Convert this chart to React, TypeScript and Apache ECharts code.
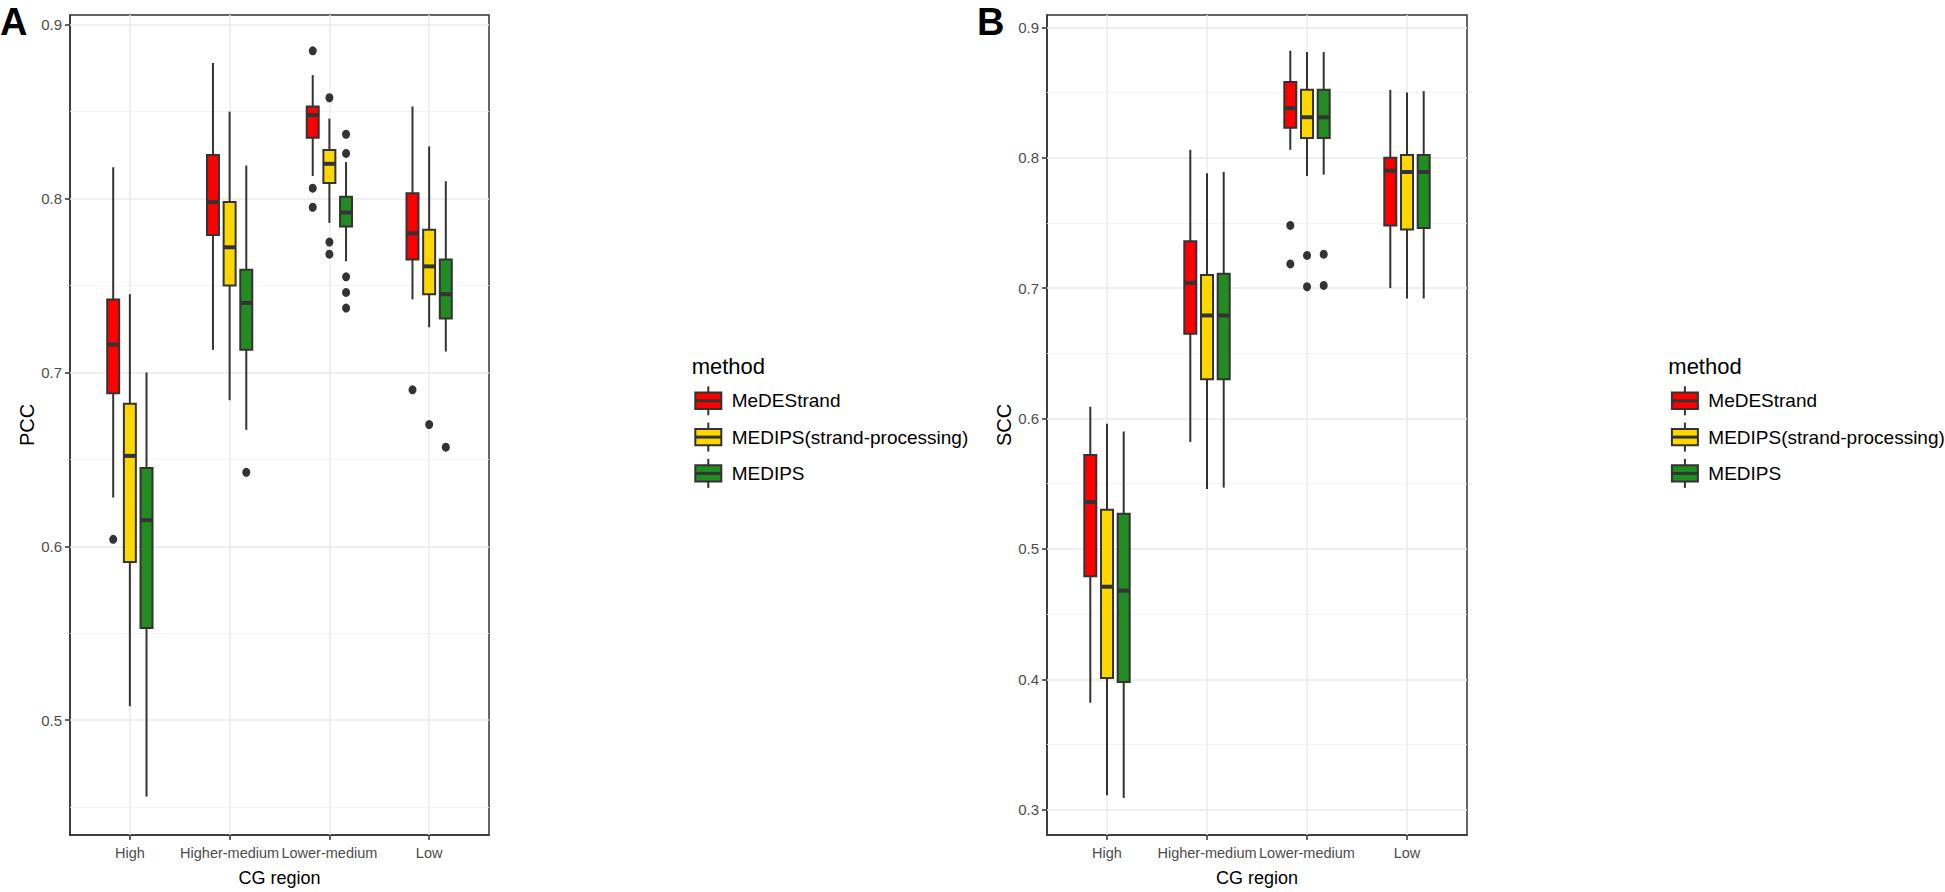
import React, { useEffect, useRef } from 'react';
import * as echarts from 'echarts';

// ---------- data ----------
const categories = ['High', 'Higher-medium', 'Lower-medium', 'Low'];
const methods = ['MeDEStrand', 'MEDIPS(strand-processing)', 'MEDIPS'];
const methodColors = ['#FF0000', '#FFD700', '#228B22'];

// box stats per category: [lower whisker, Q1, median, Q3, upper whisker]
const pccMeDEStrand = [
  [0.628, 0.688, 0.716, 0.742, 0.818],
  [0.713, 0.779, 0.798, 0.825, 0.878],
  [0.813, 0.835, 0.848, 0.853, 0.871],
  [0.742, 0.765, 0.780, 0.803, 0.853],
];
const pccMEDIPSstrand = [
  [0.508, 0.591, 0.652, 0.682, 0.745],
  [0.684, 0.750, 0.772, 0.798, 0.850],
  [0.786, 0.809, 0.820, 0.828, 0.846],
  [0.726, 0.745, 0.761, 0.782, 0.830],
];
const pccMEDIPS = [
  [0.456, 0.553, 0.615, 0.645, 0.700],
  [0.667, 0.713, 0.740, 0.759, 0.819],
  [0.764, 0.784, 0.792, 0.801, 0.821],
  [0.712, 0.731, 0.745, 0.765, 0.810],
];
const pccOutMeDEStrand = [['High', 0.604], ['Lower-medium', 0.885], ['Lower-medium', 0.806], ['Lower-medium', 0.795], ['Low', 0.690]];
const pccOutMEDIPSstrand = [['Lower-medium', 0.858], ['Lower-medium', 0.775], ['Lower-medium', 0.768], ['Low', 0.670]];
const pccOutMEDIPS = [['Higher-medium', 0.6425], ['Lower-medium', 0.837], ['Lower-medium', 0.826], ['Lower-medium', 0.755], ['Lower-medium', 0.746], ['Lower-medium', 0.737], ['Low', 0.657]];

const sccMeDEStrand = [
  [0.382, 0.479, 0.536, 0.572, 0.609],
  [0.582, 0.665, 0.704, 0.736, 0.806],
  [0.806, 0.823, 0.838, 0.858, 0.882],
  [0.700, 0.748, 0.790, 0.800, 0.852],
];
const sccMEDIPSstrand = [
  [0.311, 0.401, 0.471, 0.530, 0.596],
  [0.546, 0.630, 0.679, 0.710, 0.788],
  [0.786, 0.815, 0.831, 0.852, 0.881],
  [0.692, 0.745, 0.789, 0.802, 0.850],
];
const sccMEDIPS = [
  [0.309, 0.398, 0.468, 0.527, 0.590],
  [0.547, 0.630, 0.679, 0.711, 0.789],
  [0.787, 0.815, 0.831, 0.852, 0.881],
  [0.692, 0.746, 0.789, 0.802, 0.851],
];
const sccOutMeDEStrand = [['Lower-medium', 0.748], ['Lower-medium', 0.7185]];
const sccOutMEDIPSstrand = [['Lower-medium', 0.725], ['Lower-medium', 0.701]];
const sccOutMEDIPS = [['Lower-medium', 0.726], ['Lower-medium', 0.702]];

const pccTicks = [0.5, 0.6, 0.7, 0.8, 0.9];
const pccMinor = [0.45, 0.55, 0.65, 0.75, 0.85];
const sccTicks = [0.3, 0.4, 0.5, 0.6, 0.7, 0.8, 0.9];
const sccMinor = [0.35, 0.45, 0.55, 0.65, 0.75, 0.85];

// ---------- styling ----------
const FONT = "'Liberation Sans', Arial, Helvetica, sans-serif";
const DARK = '#333333';
const DODGE = [-0.167, 0, 0.167];
const BOX_W = 0.12;

function boxRenderItem(color: string) {
  return (params: any, api: any) => {
    const x = api.value(0);
    const pLow = api.coord([x, api.value(1)]);
    const pQ1 = api.coord([x, api.value(2)]);
    const pMed = api.coord([x, api.value(3)]);
    const pQ3 = api.coord([x, api.value(4)]);
    const pHigh = api.coord([x, api.value(5)]);
    const w = api.size([BOX_W, 0])[0];
    const cx = pMed[0];
    return {
      type: 'group',
      children: [
        { type: 'line', shape: { x1: cx, y1: pHigh[1], x2: cx, y2: pQ3[1] }, style: { stroke: DARK, lineWidth: 2 } },
        { type: 'line', shape: { x1: cx, y1: pQ1[1], x2: cx, y2: pLow[1] }, style: { stroke: DARK, lineWidth: 2 } },
        { type: 'rect', shape: { x: cx - w / 2, y: pQ3[1], width: w, height: pQ1[1] - pQ3[1] }, style: { fill: color, stroke: DARK, lineWidth: 2 } },
        { type: 'line', shape: { x1: cx - w / 2, y1: pMed[1], x2: cx + w / 2, y2: pMed[1] }, style: { stroke: DARK, lineWidth: 4 } },
      ],
    };
  };
}

function buildPanel(idx: number, left: number, width: number, yName: string, yMin: number, yMax: number,
  ticks: number[], minor: number[], boxes: number[][][], outliers: any[][][]) {
  const grid = { left, top: 15, width, height: 820, show: true, borderColor: DARK, borderWidth: 1.5, backgroundColor: '#fff' };
  const catIdx = categories.map((_, i) => i);
  const xAxis = {
    gridIndex: idx, type: 'value', min: -0.6, max: 3.6,
    splitLine: { show: false },
    axisLine: { show: true, onZero: false, lineStyle: { color: DARK, width: 1.5 } },
    axisTick: { show: true, customValues: catIdx, length: 5, lineStyle: { color: DARK, width: 1.5 } },
    axisLabel: { show: true, customValues: catIdx, formatter: (v: number) => categories[Math.round(v)] ?? '', margin: 10, color: '#4D4D4D', fontSize: 14.5, fontFamily: FONT },
    name: 'CG region', nameLocation: 'middle', nameGap: 34,
    nameTextStyle: { fontSize: 18, color: '#000', fontFamily: FONT },
  };
  const yAxis = {
    gridIndex: idx, type: 'value', min: yMin, max: yMax,
    splitLine: { show: false },
    axisLine: { show: true, onZero: false, lineStyle: { color: DARK, width: 1.5 } },
    axisTick: { show: true, customValues: ticks, length: 5, lineStyle: { color: DARK, width: 1.5 } },
    axisLabel: { show: true, customValues: ticks, formatter: (v: number) => v.toFixed(1), margin: 8, color: '#4D4D4D', fontSize: 15, fontFamily: FONT },
    name: yName, nameLocation: 'middle', nameGap: 33, nameRotate: 90,
    nameTextStyle: { fontSize: 20, color: '#000', fontFamily: FONT },
  };
  const vLine = (x: number, color: string, w: number) => [
    { coord: [x, yMin], lineStyle: { color, width: w, type: 'solid' } },
    { coord: [x, yMax] },
  ];
  const hLine = (y: number, color: string, w: number) => [
    { coord: [-0.6, y], lineStyle: { color, width: w, type: 'solid' } },
    { coord: [3.6, y] },
  ];
  const series: any[] = [];
  series.push({
    type: 'scatter', xAxisIndex: idx, yAxisIndex: idx, data: [], silent: true, z: 1,
    markLine: {
      silent: true, symbol: ['none', 'none'], animation: false, label: { show: false }, z: 1,
      data: [
        ...minor.map(v => hLine(v, '#F2F2F2', 0.9)),
        ...ticks.map(v => hLine(v, '#EBEBEB', 1.5)),
        ...catIdx.map(v => vLine(v, '#EBEBEB', 1.5)),
      ],
    },
  });
  boxes.forEach((stats, m) => {
    series.push({
      type: 'custom', name: methods[m], xAxisIndex: idx, yAxisIndex: idx, z: 3,
      renderItem: boxRenderItem(methodColors[m]),
      encode: { x: 0, y: [1, 2, 3, 4, 5] },
      data: stats.map((s, i) => [i + DODGE[m], ...s]),
    });
  });
  outliers.forEach((pts, m) => {
    series.push({
      type: 'scatter', xAxisIndex: idx, yAxisIndex: idx, z: 4, silent: true,
      symbol: 'circle', symbolSize: [8, 9],
      itemStyle: { color: DARK, opacity: 1 },
      data: pts.map(p => [categories.indexOf(p[0] as string) + DODGE[m], p[1]]),
    });
  });
  return { grid, xAxis, yAxis, series };
}

function legendGraphics(dx: number) {
  const els: any[] = [];
  els.push({ type: 'text', x: 691.7 + dx, y: 366.7, style: { text: 'method', fontSize: 22, fontFamily: FONT, fill: '#000', align: 'left', verticalAlign: 'middle' } });
  methods.forEach((m, i) => {
    const cy = 400.8 + i * 36.3;
    const cx = 708.3 + dx;
    els.push({ type: 'line', shape: { x1: cx, y1: cy - 14.5, x2: cx, y2: cy + 14.5 }, style: { stroke: DARK, lineWidth: 2 } });
    els.push({ type: 'rect', shape: { x: cx - 13, y: cy - 8.2, width: 26, height: 16.4 }, style: { fill: methodColors[i], stroke: DARK, lineWidth: 2 } });
    els.push({ type: 'line', shape: { x1: cx - 13, y1: cy, x2: cx + 13, y2: cy }, style: { stroke: DARK, lineWidth: 3 } });
    els.push({ type: 'text', x: 731.7 + dx, y: cy, style: { text: m, fontSize: 19, fontFamily: FONT, fill: '#000', align: 'left', verticalAlign: 'middle' } });
  });
  return els;
}

export default function App() {
  const ref = useRef<HTMLDivElement>(null);
  useEffect(() => {
    if (!ref.current) return;
    const chart = echarts.init(ref.current, undefined, { renderer: 'svg' });
    const a = buildPanel(0, 70, 419, 'PCC', 0.4339, 0.9056, pccTicks, pccMinor,
      [pccMeDEStrand, pccMEDIPSstrand, pccMEDIPS], [pccOutMeDEStrand, pccOutMEDIPSstrand, pccOutMEDIPS]);
    const b = buildPanel(1, 1047, 420, 'SCC', 0.2806, 0.9094, sccTicks, sccMinor,
      [sccMeDEStrand, sccMEDIPSstrand, sccMEDIPS], [sccOutMeDEStrand, sccOutMEDIPSstrand, sccOutMEDIPS]);
    chart.setOption({
      animation: false,
      backgroundColor: '#fff',
      textStyle: { fontFamily: FONT },
      grid: [a.grid, b.grid],
      xAxis: [a.xAxis, b.xAxis],
      yAxis: [a.yAxis, b.yAxis],
      series: [...a.series, ...b.series],
      graphic: [
        { type: 'text', x: 0, y: 21.5, style: { text: 'A', fontSize: 38, fontWeight: 'bold', fontFamily: FONT, fill: '#000', align: 'left', verticalAlign: 'middle' } },
        { type: 'text', x: 977, y: 21.5, style: { text: 'B', fontSize: 38, fontWeight: 'bold', fontFamily: FONT, fill: '#000', align: 'left', verticalAlign: 'middle' } },
        ...legendGraphics(0),
        ...legendGraphics(976.6),
      ],
    });
    return () => chart.dispose();
  }, []);
  return <div ref={ref} style={{ position: 'fixed', left: 0, top: 0, width: 1945, height: 892, background: '#fff' }} />;
}
